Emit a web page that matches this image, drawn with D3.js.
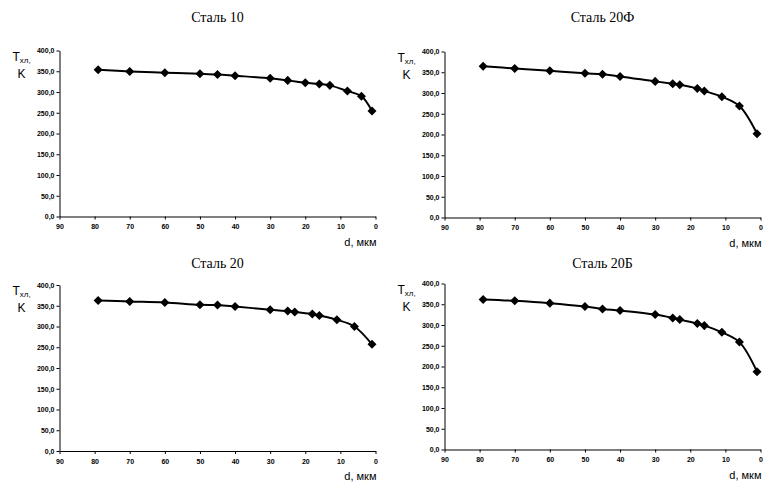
<!DOCTYPE html>
<html>
<head>
<meta charset="utf-8">
<script src="https://cdn.jsdelivr.net/npm/d3@7"></script>
<style>
    body { margin: 0; background: #fff; }
    svg { display: block; }
    .tick text { font-family: "Liberation Sans", Arial, sans-serif; font-size: 7px; font-weight: bold; }
</style>
</head>
<body>
<div id="chart"></div>
<script>
// diameters, um (x) and temperatures, K (y)
const dSt10 = [79, 70, 60, 50, 45, 40, 30, 25, 20, 16, 13, 8, 4, 1];
const dOther = [79, 70, 60, 50, 45, 40, 30, 25, 23, 18, 16, 11, 6, 1];

const tSt10 = [353.7, 349.6, 346.5, 344, 342.4, 339.3, 332.9, 328, 322.5, 319.2, 316, 302.4, 289.7, 254.4];
const tSt20F = [364.7, 359, 353.5, 347.6, 345, 340, 328, 322.4, 320, 311, 305, 291, 268.5, 202];
const tSt20 = [362.8, 360.4, 358, 352.4, 351.7, 348.3, 340.3, 337.2, 334.8, 330, 326.6, 316.2, 300, 257];
const tSt20B = [361.7, 358.3, 352.7, 344.6, 338.8, 334.9, 325.2, 317, 313, 303.4, 298.5, 282.3, 258.8, 187.6];

const titles = ["Сталь 10", "Сталь 20Ф", "Сталь 20", "Сталь 20Б"];
const xTicks = [90, 80, 70, 60, 50, 40, 30, 20, 10, 0];
const yTicks = [0, 50, 100, 150, 200, 250, 300, 350, 400];

const width = 765, height = 486,
    plotW = 316, plotH = 166;

// panel placement
const panels = [
    {title: titles[0], d: dSt10, t: tSt10, left: 59.5, top: 50.5, titleY: 22},
    {title: titles[1], d: dOther, t: tSt20F, left: 444.5, top: 51.5, titleY: 22},
    {title: titles[2], d: dOther, t: tSt20, left: 59.5, top: 285, titleY: 268},
    {title: titles[3], d: dOther, t: tSt20B, left: 444.5, top: 283.5, titleY: 268}
];

const svg = d3.select("#chart")
    .append("svg")
    .attr("width", width)
    .attr("height", height);

svg.append("rect").attr("width", width).attr("height", height).attr("fill", "#fff");

const fmt = v => v.toFixed(1).replace(".", ",");

function drawPanel(p) {
    const x = d3.scaleLinear().domain([90, 0]).range([0, plotW]);
    const y = d3.scaleLinear().domain([0, 400]).range([plotH, 0]);

    const g = svg.append("g")
        .attr("transform", "translate(" + p.left + "," + p.top + ")");

    svg.append("text")
        .attr("x", p.left + plotW / 2)
        .attr("y", p.titleY)
        .attr("text-anchor", "middle")
        .style("font-family", "'Liberation Serif', 'Times New Roman', serif")
        .style("font-size", "14px")
        .text(p.title);

    const yAxis = d3.axisLeft(y)
        .tickValues(yTicks)
        .tickSize(3)
        .tickSizeOuter(0)
        .tickFormat(fmt);

    const xAxis = d3.axisBottom(x)
        .tickValues(xTicks)
        .tickSize(3)
        .tickSizeOuter(0)
        .tickFormat(d3.format("d"));

    g.append("g")
        .attr("class", "y")
        .call(yAxis)
        .call(a => a.selectAll("path, line").attr("stroke", "#000"))
        .call(a => a.selectAll("text").attr("fill", "#000").attr("x", -5));

    g.append("g")
        .attr("class", "x")
        .attr("transform", "translate(0," + plotH + ")")
        .call(xAxis)
        .call(a => a.selectAll("path, line").attr("stroke", "#000"))
        .call(a => a.selectAll("text").attr("fill", "#000").attr("y", 8));

    // y label: T with subscript, then K
    const yl = g.append("text")
        .attr("x", -47)
        .attr("y", 10)
        .style("font-family", "'Liberation Sans', Arial, sans-serif")
        .style("font-size", "12px");
    yl.append("tspan").text("T");
    yl.append("tspan").attr("dy", 2).style("font-size", "8px").text("хл,");

    g.append("text")
        .attr("x", -42)
        .attr("y", 27)
        .style("font-family", "'Liberation Sans', Arial, sans-serif")
        .style("font-size", "12px")
        .text("K");

    g.append("text")
        .attr("x", plotW + 1)
        .attr("y", plotH + 29)
        .attr("text-anchor", "end")
        .style("font-family", "'Liberation Sans', Arial, sans-serif")
        .style("font-size", "11px")
        .text("d, мкм");

    const pts = p.d.map((d, i) => ({d, t: p.t[i]}));

    const line = d3.line()
        .x(o => x(o.d))
        .y(o => y(o.t))
        .curve(d3.curveCatmullRom.alpha(0.5));

    g.append("path")
        .datum(pts)
        .attr("fill", "none")
        .attr("stroke", "#000")
        .attr("stroke-width", 2)
        .attr("d", line);

    g.selectAll("path.mark")
        .data(pts)
        .enter().append("path")
        .attr("class", "mark")
        .attr("transform", o => "translate(" + x(o.d) + "," + y(o.t) + ")")
        .attr("d", d3.symbol().type(d3.symbolDiamond2).size(52))
        .attr("fill", "#000");
}

panels.forEach(drawPanel);
</script>
</body>
</html>
